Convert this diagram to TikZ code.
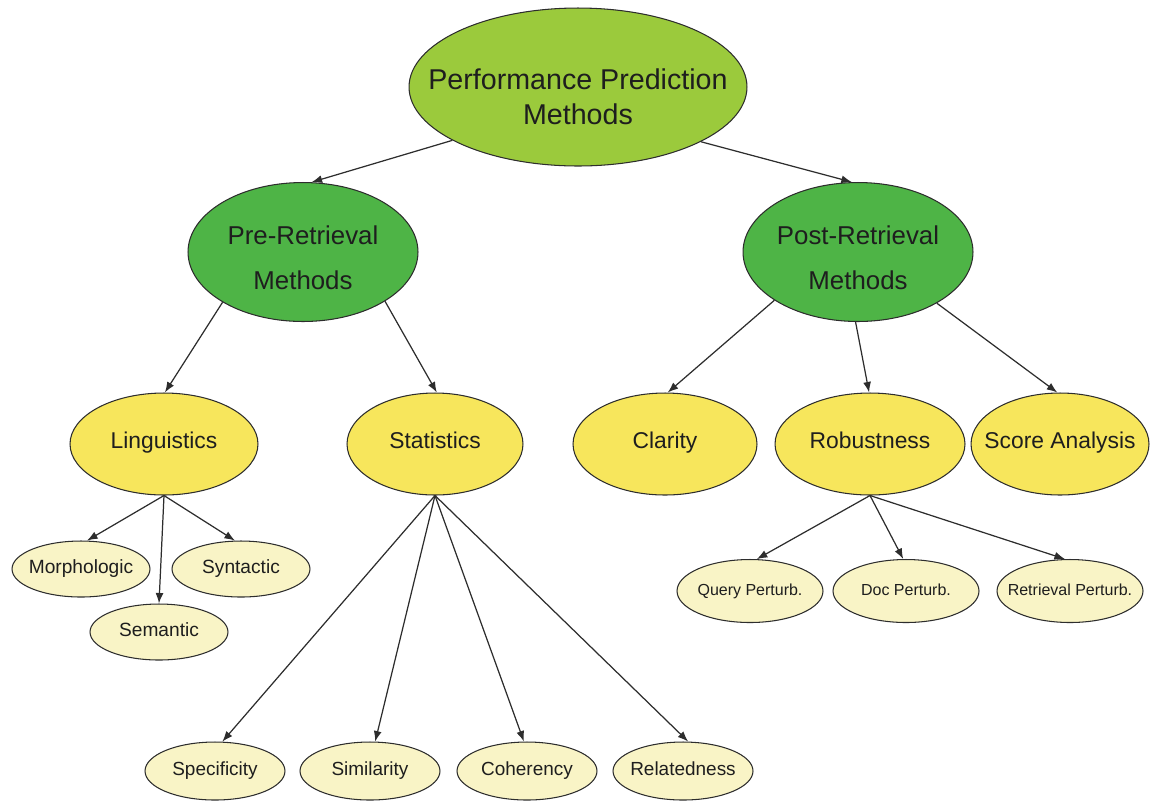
\documentclass[tikz,border=0pt]{standalone}
\usepackage{fontspec}
\setmainfont{Liberation Sans}
\usetikzlibrary{shapes.geometric,arrows.meta}

\definecolor{rootfill}{RGB}{155,202,60}
\definecolor{methfill}{RGB}{78,180,70}
\definecolor{midfill}{RGB}{247,230,92}
\definecolor{leaffill}{RGB}{249,244,198}
\definecolor{edgegray}{RGB}{45,45,45}
\definecolor{txt}{RGB}{30,30,30}

% Each oval keeps a fixed size; its caption is a centred label,
% so long captions do not enlarge the ellipse.
\tikzset{
  oval/.style={ellipse, draw=edgegray, line width=0.6pt, inner sep=0pt},
  caption/.style={text=txt, align=center, inner sep=0pt},
  oneline/.style={caption, text height=0.72em, text depth=0.2em},
  rootnode/.style={oval, fill=rootfill, minimum width=6.76cm, minimum height=3.16cm,
    label={[caption, font=\fontsize{16.3}{20}\selectfont, yshift=-0.2cm]center:#1}},
  methnode/.style={oval, fill=methfill, minimum width=4.6cm, minimum height=2.78cm,
    label={[caption, font=\fontsize{14.7}{25.5}\selectfont, yshift=-0.12cm]center:#1}},
  midnode/.style={oval, fill=midfill, minimum height=2.04cm,
    label={[oneline, font=\fontsize{13}{15}\selectfont]center:#1}},
  leafnode/.style={oval, fill=leaffill, minimum width=2.76cm, minimum height=1.12cm,
    label={[oneline, font=\fontsize{10.9}{13}\selectfont]center:#1}},
  pertnode/.style={oval, fill=leaffill, minimum width=2.92cm, minimum height=1.26cm,
    label={[oneline, font=\fontsize{9.1}{11}\selectfont]center:#1}},
  bottomnode/.style={oval, fill=leaffill, minimum width=2.8cm, minimum height=1.16cm,
    label={[oneline, font=\fontsize{10.8}{13}\selectfont]center:#1}},
  link/.style={draw=edgegray, line width=0.7pt, -{Latex[length=6pt,width=4.5pt]}}
}

\begin{document}
\begin{tikzpicture}[x=0.02cm, y=-0.02cm]
  \useasboundingbox (0,0) rectangle (1152,806);

  % root and the two method families
  \node[rootnode={Performance Prediction\\Methods}] (root) at (578,87) {};
  \node[methnode={Pre-Retrieval\\Methods}]  (pre)  at (303,252) {};
  \node[methnode={Post-Retrieval\\Methods}] (post) at (858,252) {};

  % second level
  \node[midnode=Linguistics,    minimum width=3.76cm] (ling)   at (164,444) {};
  \node[midnode=Statistics,     minimum width=3.52cm] (stats)  at (435,444) {};
  \node[midnode=Clarity,        minimum width=3.68cm] (clar)   at (665,444) {};
  \node[midnode=Robustness,     minimum width=3.80cm] (robust) at (870,444) {};
  \node[midnode=Score Analysis, minimum width=3.56cm] (score)  at (1060,444) {};

  % linguistic features
  \node[leafnode=Morphologic] (morph) at (81,569)  {};
  \node[leafnode=Syntactic]   (synt)  at (241,569) {};
  \node[leafnode=Semantic]    (sem)   at (159,632) {};

  % statistical features
  \node[bottomnode=Specificity] (spec) at (215,771) {};
  \node[bottomnode=Similarity]  (sim)  at (370,771) {};
  \node[bottomnode=Coherency]   (coh)  at (527,771) {};
  \node[bottomnode=Relatedness] (rel)  at (683,771) {};

  % robustness variants
  \node[pertnode=Query Perturb.]     (qp) at (750,591)  {};
  \node[pertnode=Doc Perturb.]       (dp) at (906,591)  {};
  \node[pertnode=Retrieval Perturb.] (rp) at (1070,591) {};

  % connectors
  \draw[link] (root.203) -- (pre.83);
  \draw[link] (root.336) -- (post.95);

  \draw[link] (pre.212) -- (ling.89);
  \draw[link] (pre.329) -- (stats.88);

  \draw[link] (post.210) -- (clar.87);
  \draw[link] (post.268) -- (robust.91);
  \draw[link] (post.327) -- (score.93);

  \draw[link] (ling.south) -- (morph.78);
  \draw[link] (ling.south) -- (sem.north);
  \draw[link] (ling.south) -- (synt.102);

  \draw[link] (stats.south) -- (spec.76);
  \draw[link] (stats.south) -- (sim.80);
  \draw[link] (stats.south) -- (coh.96);
  \draw[link] (stats.south) -- (rel.80);

  \draw[link] (robust.south) -- (qp.78);
  \draw[link] (robust.south) -- (dp.95);
  \draw[link] (robust.south) -- (rp.99);
\end{tikzpicture}
\end{document}
